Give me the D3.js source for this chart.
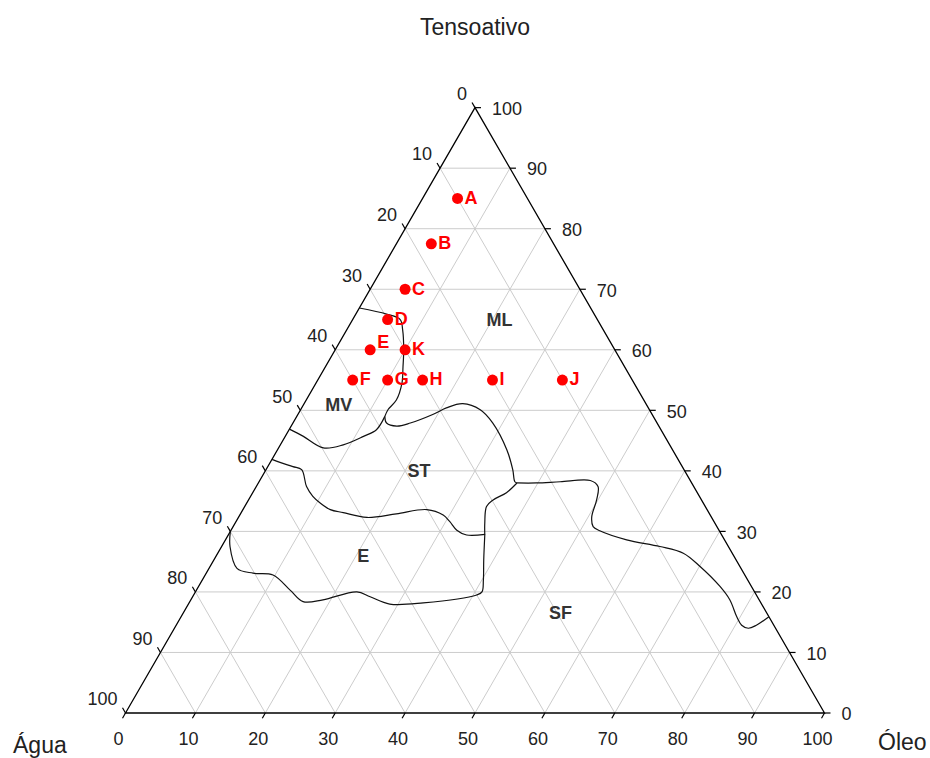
<!DOCTYPE html>
<html><head><meta charset="utf-8">
<script src="https://cdn.jsdelivr.net/npm/d3@7"></script>
<style>
body{margin:0;background:#fff}
text{font-family:"Liberation Sans",Arial,Helvetica,sans-serif}
</style>
</head><body>
<svg id="chart" width="930" height="758"></svg>
<script>
// ---- data (ternary coordinates: [Óleo, Tensoativo], Água = 100 - both) ----
const tickValues = [0,10,20,30,40,50,60,70,80,90,100];
const titleTop = "Tensoativo", titleLeft = "Água", titleRight = "Óleo";

const pointNames = ["A","B","C","D","E","K","F","G","H","I","J"];
const pointOleo  = [5, 5, 5, 5, 5, 10, 5, 10, 15, 25, 35];
const pointTens  = [85, 77.5, 70, 65, 60, 60, 55, 55, 55, 55, 55];

const regionNames = ["ML","MV","ST","E","SF"];
const regionOleo  = [21, 5, 22, 21, 54];
const regionTens  = [65, 51, 40, 26, 16.5];

const boundaryMLMV = [[0,66.9],[4.4,65.9],[6.8,65.0],[8.0,63.3],[9.8,60.0],[11.1,57.2],[12.3,54.5],[12.9,51.7],[12.5,50.1],[12.6,49.0]];
const boundaryMLST = [[12.6,49.0],[13.4,47.9],[15.1,47.4],[16.8,47.9],[19.3,49.3],[20.7,50.4],[22.7,51.1],[25.7,50.1],[28.6,47.9],[32.8,43.5],[35.3,40.2],[36.6,38.2],[37.0,38.0]];
const boundaryMVST = [[12.6,49.0],[12.5,46.8],[11.2,45.7],[9.0,44.3],[6.4,43.8],[2.6,45.7],[0,46.9]];
const boundaryMLSF = [[37.0,38.0],[39.8,38.0],[43.1,38.2],[47.3,38.4],[48.9,37.4],[49.8,35.2],[50.5,32.4],[51.5,30.8],[52.8,30.1],[57.4,28.6],[62.7,27.5],[66.6,26.4],[70.1,24.2],[74.6,20.9],[77.1,18.7],[79.5,15.9],[80.9,14.5],[82.1,14.0],[83.0,14.5],[84.1,15.9]];
const boundarySTSF = [[37.0,38.0],[36.3,36.4],[35.0,35.2],[34.6,34.1],[35.7,31.4],[36.7,29.4]];
const boundaryESF  = [[36.7,29.4],[38.6,25.3],[40.2,22.0],[41.0,20.0],[40.5,19.5],[33.5,18.2],[28.8,18.0],[25.4,19.2],[23.1,20.0],[18.9,18.7],[16.2,18.4],[13.4,20.3],[9.7,22.8],[6.7,23.1],[4.0,23.9],[1.2,27.5],[0,30.0]];
const boundarySTE  = [[0,41.9],[1.4,41.4],[3.6,40.7],[5.1,40.2],[7.2,37.4],[8.9,35.8],[10.5,34.7],[12.5,33.6],[14.6,33.1],[18.4,32.3],[22.3,32.9],[26.3,33.6],[29.1,32.7],[30.6,31.6],[32.3,30.2],[34.1,29.4],[36.7,29.5]];
const boundaries = [boundaryMLMV, boundaryMLST, boundaryMVST, boundaryMLSF, boundarySTSF, boundaryESF, boundarySTE];

// ---- layout ----
const side = 699, x0 = 125.5, y0 = 713;
const h = side * Math.sqrt(3) / 2;
const sx = d3.scaleLinear().domain([0,100]).range([0, side]);
const sy = d3.scaleLinear().domain([0,100]).range([y0, y0 - h]);
const proj = (o, t) => [x0 + sx(o) + sx(t) / 2, sy(t)];

const svg = d3.select("#chart");
const fontTick = 18, fontTitle = 23;

// grid lines
const grid = svg.append("g").attr("stroke", "#cccccc").attr("stroke-width", 1).attr("fill", "none");
tickValues.slice(1, -1).forEach(v => {
  // Tensoativo = v (horizontal)
  let a = proj(0, v), b = proj(100 - v, v);
  grid.append("line").attr("x1", a[0]).attr("y1", a[1]).attr("x2", b[0]).attr("y2", b[1]);
  // Óleo = v (parallel to left edge)
  a = proj(v, 0); b = proj(v, 100 - v);
  grid.append("line").attr("x1", a[0]).attr("y1", a[1]).attr("x2", b[0]).attr("y2", b[1]);
  // Água = v (parallel to right edge)
  a = proj(0, 100 - v); b = proj(100 - v, 0);
  grid.append("line").attr("x1", a[0]).attr("y1", a[1]).attr("x2", b[0]).attr("y2", b[1]);
});

// triangle
const L = proj(0,0), R = proj(100,0), T = proj(0,100);
svg.append("path").attr("d", `M${L}L${R}L${T}Z`).attr("fill","none").attr("stroke","#000").attr("stroke-width",1.3);

// ticks and labels
const tk = 6, c30 = 0.5, s30 = Math.sqrt(3)/2;
const ticksG = svg.append("g").attr("stroke","#000").attr("stroke-width",1.2);
const labG = svg.append("g").attr("font-size", fontTick).attr("fill", "#222");
tickValues.forEach(v => {
  // bottom: Óleo
  let p = proj(v, 0);
  ticksG.append("line").attr("x1",p[0]).attr("y1",p[1]).attr("x2",p[0]-tk*c30).attr("y2",p[1]+tk*s30);
  labG.append("text").attr("x", p[0]-7).attr("y", 745).attr("text-anchor","middle").text(v);
  // left: Água (0 at top)
  p = proj(0, 100 - v);
  ticksG.append("line").attr("x1",p[0]).attr("y1",p[1]).attr("x2",p[0]-tk*c30).attr("y2",p[1]-tk*s30);
  labG.append("text").attr("x", p[0]-8).attr("y", p[1]-14).attr("dy","0.35em").attr("text-anchor","end").text(v);
  // right: Tensoativo
  p = proj(100 - v, v);
  ticksG.append("line").attr("x1",p[0]).attr("y1",p[1]).attr("x2",p[0]+tk).attr("y2",p[1]);
  labG.append("text").attr("x", p[0]+17).attr("y", p[1]+1).attr("dy","0.35em").attr("text-anchor","start").text(v);
});

// axis titles
svg.append("text").attr("x", 475).attr("y", 35).attr("text-anchor","middle").attr("font-size",fontTitle).attr("fill","#222").text(titleTop);
svg.append("text").attr("x", 13).attr("y", 753).attr("text-anchor","start").attr("font-size",fontTitle).attr("fill","#222").text(titleLeft);
svg.append("text").attr("x", 878).attr("y", 750).attr("text-anchor","start").attr("font-size",fontTitle).attr("fill","#222").text(titleRight);

// boundaries
const line = d3.line().x(d => proj(d[0], d[1])[0]).y(d => proj(d[0], d[1])[1]).curve(d3.curveCatmullRom.alpha(0.5));
svg.append("g").selectAll("path").data(boundaries).join("path")
  .attr("d", line).attr("fill","none").attr("stroke","#111").attr("stroke-width",1.2);

// region labels
svg.append("g").selectAll("text").data(regionNames).join("text")
  .attr("x", (d,i) => proj(regionOleo[i], regionTens[i])[0])
  .attr("y", (d,i) => proj(regionOleo[i], regionTens[i])[1])
  .attr("dy","0.35em").attr("text-anchor","middle")
  .attr("font-size",18).attr("font-weight","bold").attr("fill","#333").text(d => d);

// points
const labelNudge = {E: -7};
const pts = svg.append("g");
pts.selectAll("circle").data(pointNames).join("circle")
  .attr("cx", (d,i) => proj(pointOleo[i], pointTens[i])[0])
  .attr("cy", (d,i) => proj(pointOleo[i], pointTens[i])[1])
  .attr("r", 5.5).attr("fill", "#ff0000");
pts.selectAll("text").data(pointNames).join("text")
  .attr("x", (d,i) => proj(pointOleo[i], pointTens[i])[0] + 7)
  .attr("y", (d,i) => proj(pointOleo[i], pointTens[i])[1] - 1 + (labelNudge[d] || 0))
  .attr("dy","0.35em").attr("font-size",18).attr("font-weight","bold").attr("fill","#ff0000").text(d => d);
</script>
</body></html>
